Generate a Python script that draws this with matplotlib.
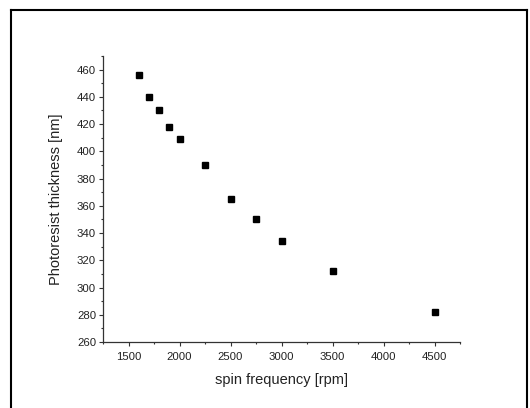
import matplotlib
matplotlib.use('Agg')
import matplotlib.pyplot as plt
from matplotlib.lines import Line2D
from matplotlib.ticker import MultipleLocator

# spin curve data
spin_rpm = [1600, 1700, 1800, 1900, 2000, 2250, 2500, 2750, 3000, 3500, 4500]
thickness_nm = [456, 440, 430, 418, 409, 390, 365, 350, 334, 312, 282]

x_ticks = [1500, 2000, 2500, 3000, 3500, 4000, 4500]
y_ticks = [260, 280, 300, 320, 340, 360, 380, 400, 420, 440, 460]

plt.rcParams['font.family'] = ['Liberation Sans', 'DejaVu Sans']

fig = plt.figure(figsize=(5.3, 4.08), dpi=100)
ax = fig.add_axes([103 / 530, 66 / 408, 357 / 530, 286 / 408])

ax.plot(spin_rpm, thickness_nm, 's', color='black', markersize=4.5)

ax.set_xlim(1250, 4750)
ax.set_ylim(260, 470)
ax.set_xticks(x_ticks)
ax.set_yticks(y_ticks)
ax.xaxis.set_minor_locator(MultipleLocator(250))
ax.yaxis.set_minor_locator(MultipleLocator(10))

edge = '#333333'
for side in ['top', 'right']:
    ax.spines[side].set_visible(False)
for side in ['left', 'bottom']:
    ax.spines[side].set_color(edge)
    ax.spines[side].set_linewidth(0.9)

ax.tick_params(which='major', direction='out', length=3, width=0.8,
               color=edge, labelsize=8.2, labelcolor='#222222')
ax.tick_params(axis='x', which='major', pad=4)
ax.tick_params(axis='y', which='major', pad=2)
ax.tick_params(which='minor', direction='out', length=1.6, width=0.8, color=edge)

ax.set_xlabel('spin frequency [rpm]', fontsize=10.5, color='#222222', labelpad=8)
ax.set_ylabel('Photoresist thickness [nm]', fontsize=10.5, color='#222222', labelpad=10)

# frame drawn round the figure
fig.add_artist(Line2D([11 / 530, 11 / 530], [0, 1 - 10 / 408], transform=fig.transFigure,
                      color='black', linewidth=1.5))
fig.add_artist(Line2D([11 / 530, 527 / 530], [1 - 10 / 408, 1 - 10 / 408],
                      transform=fig.transFigure, color='black', linewidth=1.5))
fig.add_artist(Line2D([527 / 530, 527 / 530], [0, 1 - 10 / 408], transform=fig.transFigure,
                      color='black', linewidth=1.5))

fig.savefig('out.png', dpi=100)
plt.close('all')
